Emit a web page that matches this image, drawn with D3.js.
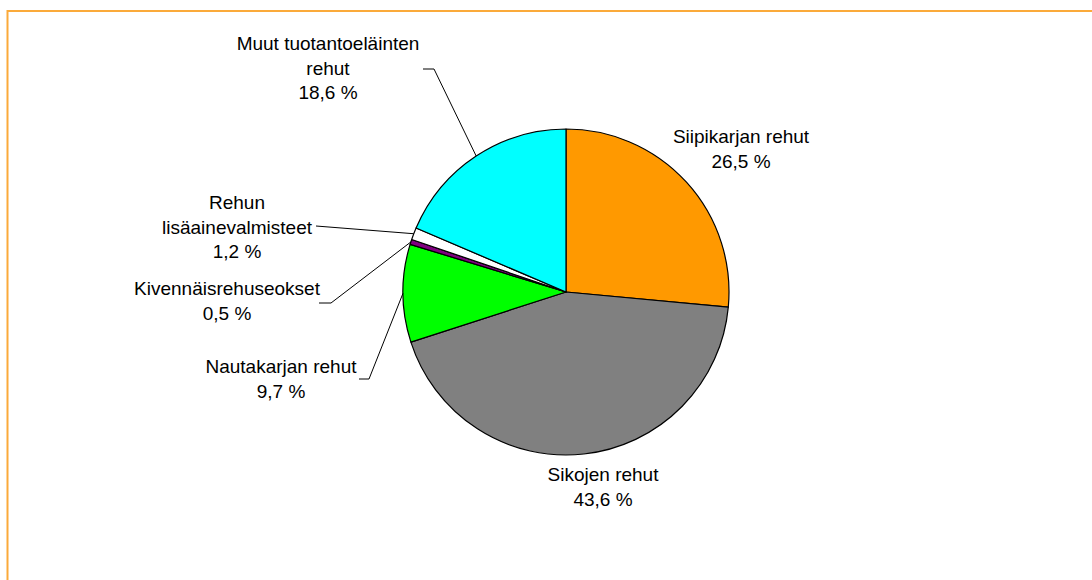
<!DOCTYPE html>
<html>
<head>
<meta charset="utf-8">
<script src="https://cdn.jsdelivr.net/npm/d3@7"></script>
<style>
  body { margin: 0; background: #fff; }
  text { font-family: "Liberation Sans", Arial, sans-serif; font-size: 19px; fill: #000; }
</style>
</head>
<body>
<svg id="main" width="1092" height="580"></svg>
<script>
// Данные
const categories = ['Siipikarjan rehut', 'Sikojen rehut', 'Nautakarjan rehut',
    'Kivennäisrehuseokset', 'Rehun lisäainevalmisteet', 'Muut tuotantoeläinten rehut'];
const shares = [26.5, 43.6, 9.7, 0.5, 1.2, 18.6];
const labelLines = [
    ['Siipikarjan rehut'],
    ['Sikojen rehut'],
    ['Nautakarjan rehut'],
    ['Kivennäisrehuseokset'],
    ['Rehun', 'lisäainevalmisteet'],
    ['Muut tuotantoeläinten', 'rehut']
];
const colors = ['#ff9900', '#808080', '#00ff00', '#800080', '#ffffff', '#00ffff'];

// Раскладка подписей: центр текста, базовая линия первой строки, начало выноски
const labelLayout = [
    { x: 741, y: 143, leader: null },
    { x: 603, y: 481, leader: null },
    { x: 281, y: 373, leader: [[359, 379], [369, 379]] },
    { x: 227, y: 295, leader: [[319, 303], [331, 303]] },
    { x: 237, y: 209, leader: [[316, 226]] },
    { x: 328, y: 50, leader: [[423, 69], [434, 69]] }
];

const cx = 566, cy = 292, radius = 163;
const lineHeight = 24.5;

const svg = d3.select('svg#main');

// Рамка
svg.append('path')
    .attr('d', 'M7.5,580 V11 H1092')
    .attr('fill', 'none')
    .attr('stroke', '#fbaa3a')
    .attr('stroke-width', 2);

const pie = d3.pie().sort(null).value(d => d)(shares);
const arc = d3.arc().innerRadius(0).outerRadius(radius);

const g = svg.append('g').attr('transform', `translate(${cx},${cy})`);

g.selectAll('path.slice')
    .data(pie)
    .join('path')
    .attr('class', 'slice')
    .attr('d', arc)
    .attr('fill', (d, i) => colors[i])
    .attr('stroke', '#000')
    .attr('stroke-width', 1.2)
    .attr('stroke-linejoin', 'round');

// Выноски
pie.forEach((d, i) => {
    const lay = labelLayout[i];
    if (!lay.leader) return;
    const mid = (d.startAngle + d.endAngle) / 2;
    const end = [cx + radius * Math.sin(mid), cy - radius * Math.cos(mid)];
    const pts = lay.leader.concat([end]);
    svg.append('path')
        .attr('d', d3.line()(pts))
        .attr('fill', 'none')
        .attr('stroke', '#000')
        .attr('stroke-width', 1);
});

// Подписи
const fmt = v => d3.format('.1f')(v).replace('.', ',') + ' %';
pie.forEach((d, i) => {
    const lay = labelLayout[i];
    const lines = labelLines[i].concat([fmt(shares[i])]);
    const t = svg.append('text')
        .attr('text-anchor', 'middle')
        .attr('x', lay.x)
        .attr('y', lay.y);
    lines.forEach((s, k) => {
        t.append('tspan')
            .attr('x', lay.x)
            .attr('dy', k === 0 ? 0 : lineHeight)
            .text(s);
    });
});
</script>
</body>
</html>
